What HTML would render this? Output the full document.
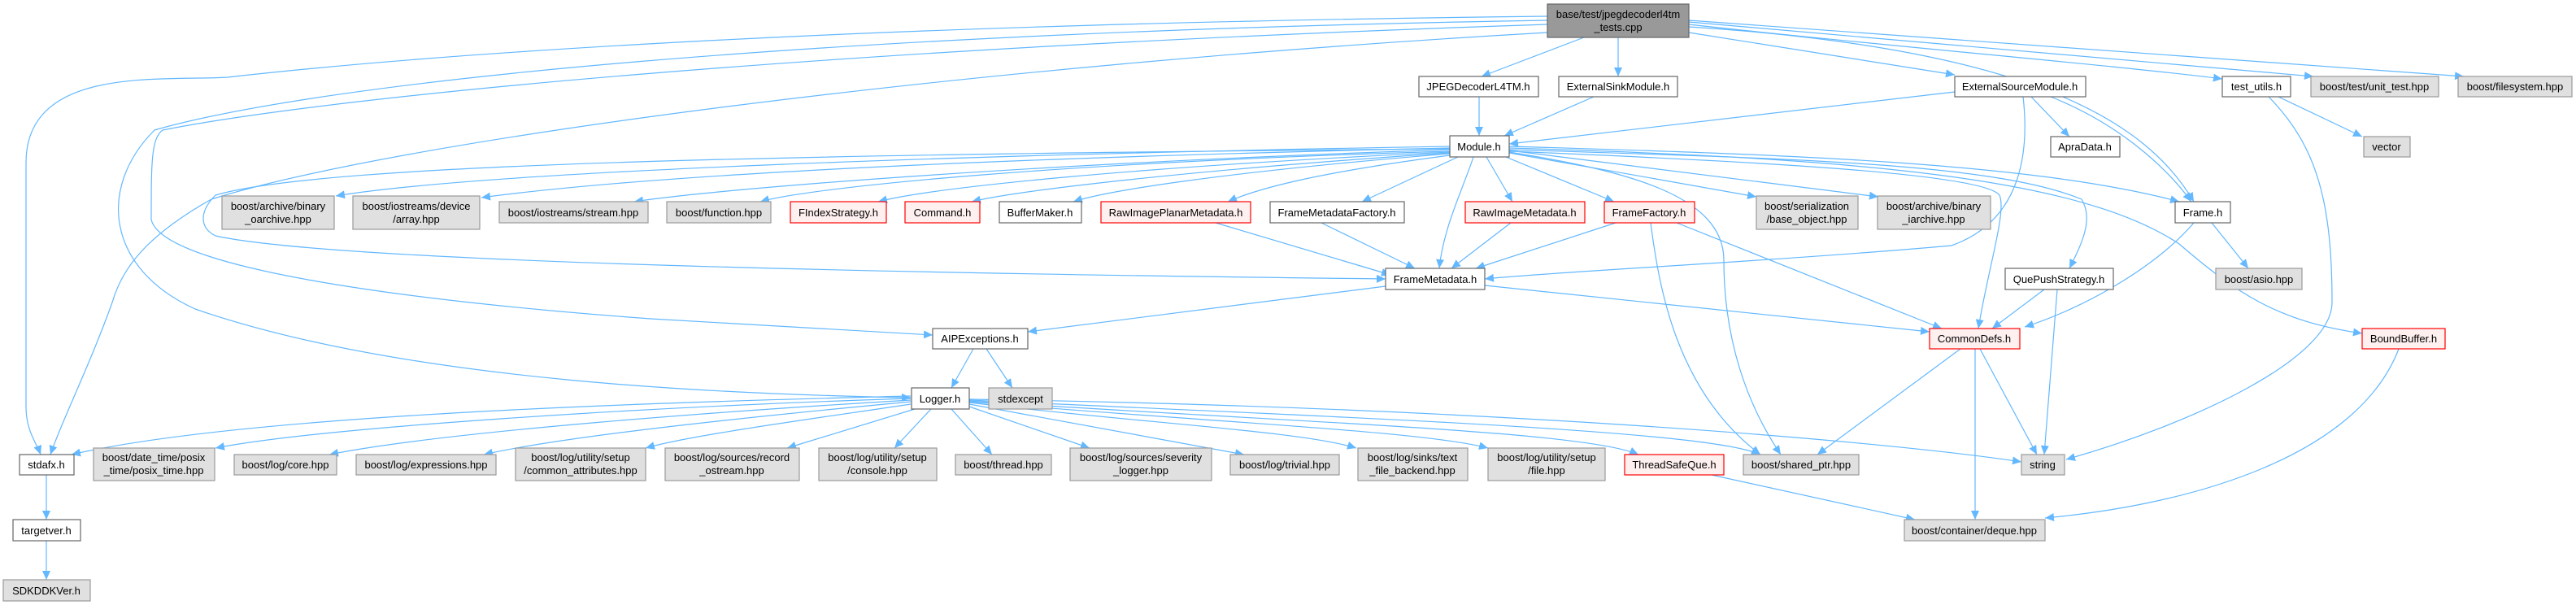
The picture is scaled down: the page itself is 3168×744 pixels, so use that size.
<!DOCTYPE html>
<html><head><meta charset="utf-8"><style>
html,body{margin:0;padding:0;background:#fff;}
svg{display:block;}
text{font-family:"Liberation Sans",Arial,sans-serif;font-size:13px;fill:#000;text-anchor:middle;}
.w{fill:#fff;stroke:#666;stroke-width:1.2}
.g{fill:#e0e0e0;stroke:#999;stroke-width:1.2}
.r{fill:#fff0f0;stroke:#f00;stroke-width:1.2}
.k{fill:#999;stroke:#666;stroke-width:1.2}
.e path{fill:none;stroke:#63b8ff;stroke-width:1.2;marker-end:url(#a)}
</style></head><body>
<svg width="3168" height="744" viewBox="0 0 3168 744" xmlns="http://www.w3.org/2000/svg">
<defs><marker id="a" markerUnits="userSpaceOnUse" markerWidth="12" markerHeight="10" refX="11" refY="5" orient="auto"><path d="M0,0 L11,5 L0,10 z" fill="#63b8ff"/></marker></defs>
<g class="e">
<path d="M1948,46 L1822,94"/>
<path d="M1990,46 L1990,94"/>
<path d="M2077,40 L2404,92"/>
<path d="M2077,30 C2300,55 2600,80 2733,97"/>
<path d="M2077,27 L2845,94"/>
<path d="M2077,25 L3030,94"/>
<path d="M2077,33 C2500,60 2640,150 2698,248"/>
<path d="M1903,20 C1000,30 500,70 280,95 C200,100 32,80 32,200 L32,500 C32,530 45,545 50,559"/>
<path d="M1903,25 C1000,40 400,100 190,160 C120,230 130,330 240,380 C500,470 900,485 1120,489"/>
<path d="M1903,30 C1000,60 400,120 200,160 C186,170 186,200 186,270 C200,330 500,370 800,392 L1147,412"/>
<path d="M1903,40 C1200,80 500,170 260,245 C180,290 150,330 138,372 C110,450 75,520 62,559"/>
<path d="M1783,183 C1000,190 400,200 265,240 C245,260 245,280 265,290 C400,320 1000,335 1704,343"/>
<path d="M1783,180 C1200,190 600,210 413,241"/>
<path d="M1783,182 C1200,195 800,215 592,243"/>
<path d="M1783,184 C1300,200 900,230 780,248"/>
<path d="M1783,186 C1300,200 1000,230 935,248"/>
<path d="M1783,187 C1400,205 1150,230 1080,248"/>
<path d="M1783,188 C1450,210 1250,235 1195,248"/>
<path d="M1783,189 C1500,212 1360,235 1320,248"/>
<path d="M1783,191 C1600,215 1540,235 1510,248"/>
<path d="M1793,193 L1675,248"/>
<path d="M1812,193 C1800,230 1775,280 1770,330"/>
<path d="M1828,193 L1860,248"/>
<path d="M1852,193 L1985,248"/>
<path d="M1856,188 L2160,242"/>
<path d="M1856,185 L2310,242"/>
<path d="M1856,180 C2200,190 2500,200 2680,248"/>
<path d="M1856,186 C2200,200 2440,215 2459,240 C2468,260 2445,330 2433,404"/>
<path d="M1856,187 C2000,210 2120,240 2120,320 C2120,420 2150,500 2190,559"/>
<path d="M1856,184 C2200,195 2450,200 2560,245 C2575,270 2560,300 2545,330"/>
<path d="M1856,182 C2300,195 2560,220 2680,300 C2750,360 2800,395 2905,410"/>
<path d="M2404,113 L1856,177"/>
<path d="M2498,119 L2545,168"/>
<path d="M2522,119 C2600,150 2660,200 2695,248"/>
<path d="M2488,119 C2495,180 2490,270 2400,302 C2200,320 1900,335 1826,343"/>
<path d="M1819,119 L1819,167"/>
<path d="M1960,119 L1850,167"/>
<path d="M2802,119 L2905,168"/>
<path d="M2790,119 C2850,180 2868,250 2868,372 C2868,440 2700,520 2541,565"/>
<path d="M2698,274 C2650,330 2560,380 2490,402"/>
<path d="M2720,274 L2765,330"/>
<path d="M2514,356 L2450,404"/>
<path d="M2530,356 L2514,559"/>
<path d="M1625,274 L1740,330"/>
<path d="M1495,274 L1710,338"/>
<path d="M1858,274 L1785,330"/>
<path d="M1987,274 L1815,330"/>
<path d="M2030,274 C2040,350 2060,480 2165,559"/>
<path d="M2062,274 L2388,404"/>
<path d="M1704,352 L1264,408"/>
<path d="M1826,351 L2373,408"/>
<path d="M1197,429 L1170,477"/>
<path d="M1213,429 L1245,477"/>
<path d="M1120,487 C800,495 300,510 88,559"/>
<path d="M1120,490 C800,500 400,525 265,551"/>
<path d="M1120,492 C900,505 550,530 405,559"/>
<path d="M1120,494 C950,510 700,535 595,559"/>
<path d="M1120,497 C1000,515 850,535 794,551"/>
<path d="M1125,503 L968,551"/>
<path d="M1145,503 L1100,551"/>
<path d="M1170,503 L1220,559"/>
<path d="M1192,500 L1340,551"/>
<path d="M1192,497 L1530,559"/>
<path d="M1192,495 C1400,520 1600,530 1668,551"/>
<path d="M1192,494 C1500,520 1750,530 1830,551"/>
<path d="M1192,493 C1600,520 1950,530 2015,559"/>
<path d="M1192,492 C1700,515 2100,530 2165,559"/>
<path d="M1192,491 C1800,500 2300,540 2486,568"/>
<path d="M2105,584 L2355,639"/>
<path d="M2429,429 L2429,639"/>
<path d="M2435,429 L2505,559"/>
<path d="M2411,429 L2235,559"/>
<path d="M2950,429 C2900,560 2700,620 2515,637"/>
<path d="M57,584 L57,639"/>
<path d="M57,665 L57,713"/>
</g>
<g>
<rect class="k" x="1903" y="5" width="174" height="41"/><text x="1990" y="22">base/test/jpegdecoderl4tm</text><text x="1990" y="38">_tests.cpp</text>
<rect class="w" x="1745" y="94" width="147" height="25"/><text x="1818" y="111">JPEGDecoderL4TM.h</text>
<rect class="w" x="1917" y="94" width="146" height="25"/><text x="1990" y="111">ExternalSinkModule.h</text>
<rect class="w" x="2404" y="94" width="161" height="25"/><text x="2484" y="111">ExternalSourceModule.h</text>
<rect class="w" x="2733" y="94" width="84" height="25"/><text x="2775" y="111">test_utils.h</text>
<rect class="g" x="2842" y="94" width="157" height="25"/><text x="2920" y="111">boost/test/unit_test.hpp</text>
<rect class="g" x="3023" y="94" width="140" height="25"/><text x="3093" y="111">boost/filesystem.hpp</text>
<rect class="w" x="1783" y="167" width="73" height="26"/><text x="1819" y="185">Module.h</text>
<rect class="w" x="2522" y="168" width="85" height="25"/><text x="2564" y="185">ApraData.h</text>
<rect class="g" x="2907" y="168" width="57" height="25"/><text x="2935" y="185">vector</text>
<rect class="g" x="273" y="241" width="138" height="41"/><text x="342" y="258">boost/archive/binary</text><text x="342" y="274">_oarchive.hpp</text>
<rect class="g" x="434" y="241" width="156" height="41"/><text x="512" y="258">boost/iostreams/device</text><text x="512" y="274">/array.hpp</text>
<rect class="g" x="614" y="248" width="183" height="26"/><text x="705" y="266">boost/iostreams/stream.hpp</text>
<rect class="g" x="820" y="248" width="128" height="26"/><text x="884" y="266">boost/function.hpp</text>
<rect class="r" x="972" y="248" width="118" height="26"/><text x="1031" y="266">FIndexStrategy.h</text>
<rect class="r" x="1113" y="248" width="92" height="26"/><text x="1159" y="266">Command.h</text>
<rect class="w" x="1229" y="248" width="101" height="26"/><text x="1279" y="266">BufferMaker.h</text>
<rect class="r" x="1354" y="248" width="184" height="26"/><text x="1446" y="266">RawImagePlanarMetadata.h</text>
<rect class="w" x="1562" y="248" width="165" height="26"/><text x="1644" y="266">FrameMetadataFactory.h</text>
<rect class="r" x="1802" y="248" width="147" height="26"/><text x="1875" y="266">RawImageMetadata.h</text>
<rect class="r" x="1973" y="248" width="111" height="26"/><text x="2028" y="266">FrameFactory.h</text>
<rect class="g" x="2160" y="241" width="125" height="41"/><text x="2222" y="258">boost/serialization</text><text x="2222" y="274">/base_object.hpp</text>
<rect class="g" x="2309" y="241" width="139" height="41"/><text x="2378" y="258">boost/archive/binary</text><text x="2378" y="274">_iarchive.hpp</text>
<rect class="w" x="2675" y="248" width="68" height="26"/><text x="2709" y="266">Frame.h</text>
<rect class="w" x="1704" y="330" width="122" height="26"/><text x="1765" y="348">FrameMetadata.h</text>
<rect class="w" x="2466" y="330" width="133" height="26"/><text x="2532" y="348">QuePushStrategy.h</text>
<rect class="g" x="2725" y="330" width="106" height="26"/><text x="2778" y="348">boost/asio.hpp</text>
<rect class="w" x="1147" y="404" width="117" height="25"/><text x="1205" y="421">AIPExceptions.h</text>
<rect class="r" x="2373" y="404" width="111" height="25"/><text x="2428" y="421">CommonDefs.h</text>
<rect class="r" x="2905" y="404" width="102" height="25"/><text x="2956" y="421">BoundBuffer.h</text>
<rect class="w" x="1121" y="477" width="71" height="26"/><text x="1156" y="495">Logger.h</text>
<rect class="g" x="1216" y="477" width="78" height="26"/><text x="1255" y="495">stdexcept</text>
<rect class="w" x="24" y="559" width="67" height="25"/><text x="57" y="576">stdafx.h</text>
<rect class="g" x="115" y="551" width="149" height="40"/><text x="189" y="567">boost/date_time/posix</text><text x="189" y="583">_time/posix_time.hpp</text>
<rect class="g" x="288" y="559" width="126" height="25"/><text x="351" y="576">boost/log/core.hpp</text>
<rect class="g" x="438" y="559" width="172" height="25"/><text x="524" y="576">boost/log/expressions.hpp</text>
<rect class="g" x="634" y="551" width="160" height="40"/><text x="714" y="567">boost/log/utility/setup</text><text x="714" y="583">/common_attributes.hpp</text>
<rect class="g" x="818" y="551" width="165" height="40"/><text x="900" y="567">boost/log/sources/record</text><text x="900" y="583">_ostream.hpp</text>
<rect class="g" x="1007" y="551" width="145" height="40"/><text x="1079" y="567">boost/log/utility/setup</text><text x="1079" y="583">/console.hpp</text>
<rect class="g" x="1175" y="559" width="118" height="25"/><text x="1234" y="576">boost/thread.hpp</text>
<rect class="g" x="1316" y="551" width="174" height="40"/><text x="1403" y="567">boost/log/sources/severity</text><text x="1403" y="583">_logger.hpp</text>
<rect class="g" x="1513" y="559" width="134" height="25"/><text x="1580" y="576">boost/log/trivial.hpp</text>
<rect class="g" x="1670" y="551" width="135" height="40"/><text x="1737" y="567">boost/log/sinks/text</text><text x="1737" y="583">_file_backend.hpp</text>
<rect class="g" x="1830" y="551" width="144" height="40"/><text x="1902" y="567">boost/log/utility/setup</text><text x="1902" y="583">/file.hpp</text>
<rect class="r" x="1998" y="559" width="122" height="25"/><text x="2059" y="576">ThreadSafeQue.h</text>
<rect class="g" x="2144" y="559" width="142" height="25"/><text x="2215" y="576">boost/shared_ptr.hpp</text>
<rect class="g" x="2486" y="559" width="53" height="25"/><text x="2512" y="576">string</text>
<rect class="w" x="16" y="639" width="83" height="26"/><text x="57" y="657">targetver.h</text>
<rect class="g" x="2342" y="639" width="173" height="26"/><text x="2428" y="657">boost/container/deque.hpp</text>
<rect class="g" x="4" y="713" width="107" height="26"/><text x="57" y="731">SDKDDKVer.h</text>
</g>
</svg>
</body></html>
